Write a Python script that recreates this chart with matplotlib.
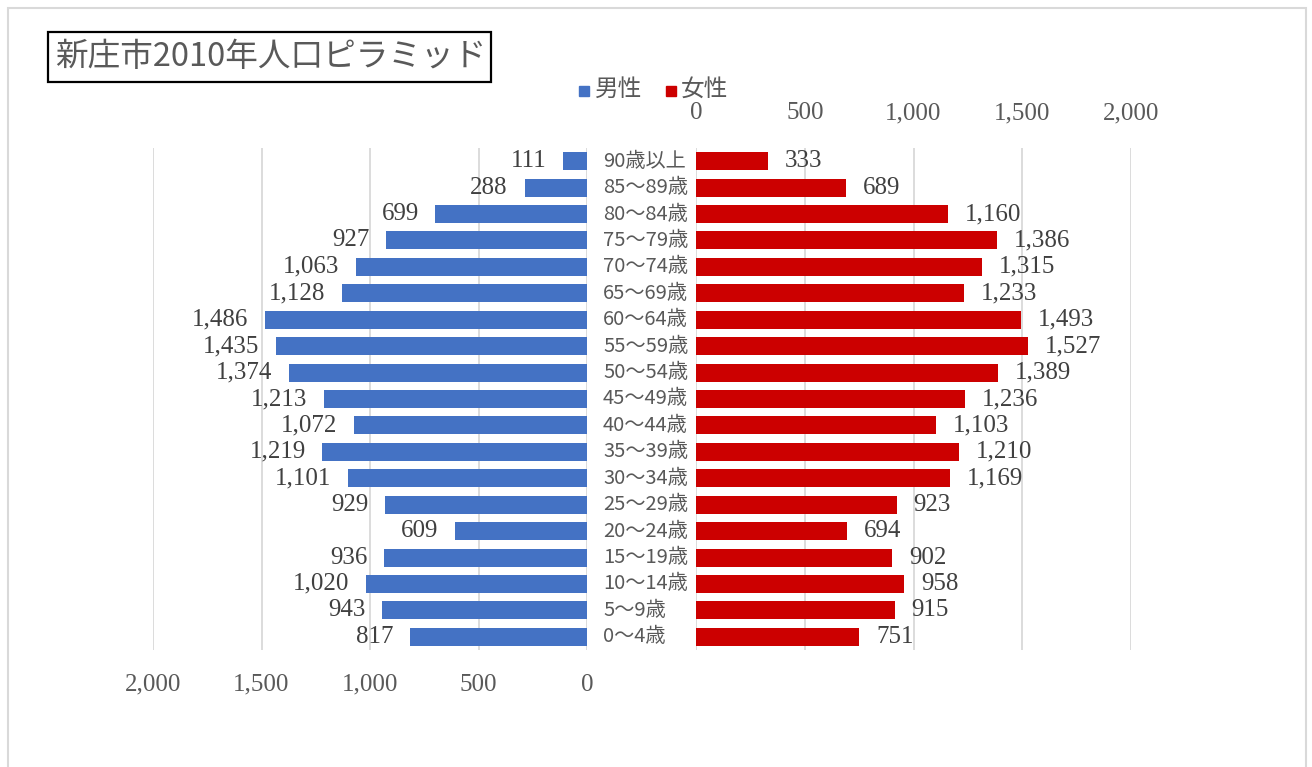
import matplotlib
matplotlib.use("Agg")
import matplotlib.pyplot as plt
from matplotlib.patches import Rectangle
from matplotlib.transforms import blended_transform_factory

categories = ["90歳以上", "85～89歳", "80～84歳", "75～79歳", "70～74歳", "65～69歳",
              "60～64歳", "55～59歳", "50～54歳", "45～49歳", "40～44歳", "35～39歳",
              "30～34歳", "25～29歳", "20～24歳", "15～19歳", "10～14歳", "5～9歳", "0～4歳"]
male = [111, 288, 699, 927, 1063, 1128, 1486, 1435, 1374, 1213, 1072, 1219,
        1101, 929, 609, 936, 1020, 943, 817]
female = [333, 689, 1160, 1386, 1315, 1233, 1493, 1527, 1389, 1236, 1103, 1210,
          1169, 923, 694, 902, 958, 915, 751]
ticks = [0, 500, 1000, 1500, 2000]
title = "新庄市2010年人口ピラミッド"

W, H = 1312, 767
fig = plt.figure(figsize=(W / 100, H / 100), dpi=100)
fig.patch.set_facecolor("white")

CJK = ["Noto Sans CJK JP", "DejaVu Sans"]
SERIF = ["Liberation Serif", "DejaVu Serif"]
BLUE = "#4472C4"
RED = "#CC0000"
GRID = "#D9D9D9"
TXT = "#595959"
LBL = "#404040"

def fx(px):
    return px / W

def fy(py):
    return 1 - py / H

# outer frame
fig.patches.append(Rectangle((fx(8), fy(780)), fx(1306) - fx(8), fy(8) - fy(780),
                             transform=fig.transFigure, fill=False,
                             edgecolor=GRID, linewidth=1.5))

top_px, bot_px = 148, 650
axL = fig.add_axes([fx(153), fy(bot_px), fx(587) - fx(153), fy(top_px) - fy(bot_px)])
axR = fig.add_axes([fx(696), fy(bot_px), fx(1131) - fx(696), fy(top_px) - fy(bot_px)])

n = len(categories)
ypos = list(range(n))

for ax in (axL, axR):
    ax.set_ylim(n - 0.5, -0.5)
    ax.set_xlim(0, 2000)
    ax.set_xticks(ticks)
    ax.xaxis.grid(True, color=GRID, linewidth=1.3)
    ax.set_axisbelow(True)
    for s in ax.spines.values():
        s.set_visible(False)
    ax.set_yticks([])
    ax.tick_params(axis="x", length=0, labelsize=18, labelcolor=TXT)
    ax.set_facecolor("none")

axL.invert_xaxis()
axL.barh(ypos, male, height=0.68, color=BLUE)
axR.barh(ypos, female, height=0.68, color=RED)

axL.xaxis.set_ticks_position("bottom")
axL.tick_params(axis="x", pad=17)
axR.xaxis.set_ticks_position("top")
axR.xaxis.set_label_position("top")
axR.tick_params(axis="x", labeltop=True, labelbottom=False, pad=17)

for ax in (axL, axR):
    ax.set_xticklabels([f"{t:,}" for t in ticks], family=SERIF)

for y, v in zip(ypos, male):
    axL.annotate(f"{v:,}", (v, y), xytext=(-12, 0), textcoords="offset points",
                 ha="right", va="center", fontsize=18, color=LBL, family=SERIF)
for y, v in zip(ypos, female):
    axR.annotate(f"{v:,}", (v, y), xytext=(12, 0), textcoords="offset points",
                 ha="left", va="center", fontsize=18, color=LBL, family=SERIF)

tr = blended_transform_factory(fig.transFigure, axR.transData)
for y, c in zip(ypos, categories):
    fig.text(fx(603), 0, c, transform=tr, ha="left", va="center",
             fontsize=14.5, color=TXT, family=CJK).set_y(y)

# title box
fig.patches.append(Rectangle((fx(48), fy(82)), fx(491) - fx(48), fy(32) - fy(82),
                             transform=fig.transFigure, fill=False,
                             edgecolor="black", linewidth=1.6))
fig.text(fx(55), fy(57), title, ha="left", va="center", fontsize=23.5,
         color=TXT, family=CJK)

# legend
fig.patches.append(Rectangle((fx(579), fy(96)), fx(10), fy(86) - fy(96),
                             transform=fig.transFigure, color=BLUE))
fig.text(fx(595), fy(89), "男性", ha="left", va="center", fontsize=17,
         color=TXT, family=CJK)
fig.patches.append(Rectangle((fx(666), fy(96)), fx(10), fy(86) - fy(96),
                             transform=fig.transFigure, color=RED))
fig.text(fx(681), fy(89), "女性", ha="left", va="center", fontsize=17,
         color=TXT, family=CJK)

fig.savefig("out.png", dpi=100, facecolor="white")
